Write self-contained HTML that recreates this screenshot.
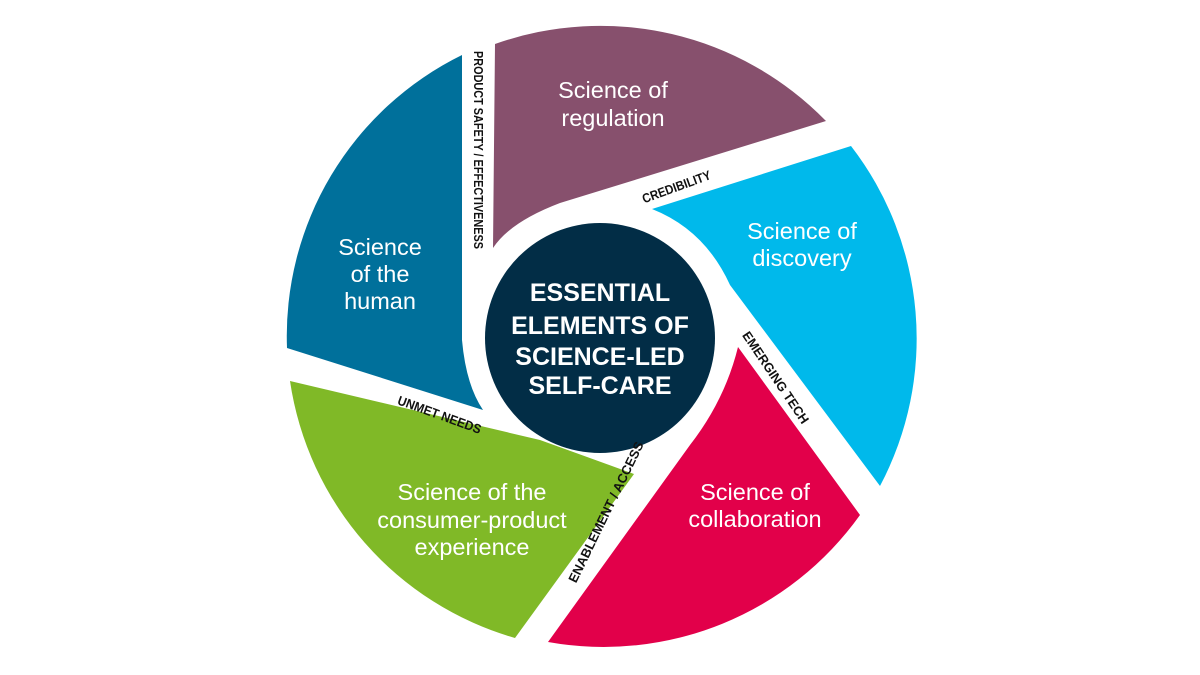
<!DOCTYPE html>
<html><head><meta charset="utf-8"><style>
html,body{margin:0;padding:0;background:#fff;}
svg{display:block;}
.w{fill:#fff;font-family:"Liberation Sans",sans-serif;font-size:23.5px;text-anchor:middle;}
.c{fill:#fff;font-family:"Liberation Sans",sans-serif;font-size:25px;font-weight:bold;text-anchor:middle;}
.k{fill:#111;font-family:"Liberation Sans",sans-serif;font-size:13px;font-weight:bold;text-anchor:middle;}
</style></head><body>
<svg width="1200" height="675" viewBox="0 0 1200 675" xmlns="http://www.w3.org/2000/svg">
<rect width="1200" height="675" fill="#fff"/>
<path d="M495 44 A315 315 0 0 1 826 121 L560 203 Q510 222 493 248 Z" fill="#87506d"/>
<path d="M851 146 A315 315 0 0 1 880 486 L730 285 Q705 230 652 209 Z" fill="#00b9eb"/>
<path d="M860 515 A315 315 0 0 1 548 642 L690 445 Q725 400 738 347 Z" fill="#e2004a"/>
<path d="M515 638 A315 315 0 0 1 290 381 L540 440 Q590 458 634 474 Z" fill="#80b927"/>
<path d="M462 55 L462 340 Q466 385 483 410 L287 348 A313 313 0 0 1 462 55 Z" fill="#00709b"/>
<circle cx="600" cy="338" r="115" fill="#022d46"/>

<text class="w" x="613" y="98">Science of</text>
<text class="w" x="613" y="126">regulation</text>
<text class="w" x="802" y="239">Science of</text>
<text class="w" x="802" y="266">discovery</text>
<text class="w" x="380" y="255">Science</text>
<text class="w" x="380" y="282">of the</text>
<text class="w" x="380" y="309">human</text>
<text class="w" x="472" y="500">Science of the</text>
<text class="w" x="472" y="528">consumer-product</text>
<text class="w" x="472" y="555">experience</text>
<text class="w" x="755" y="500">Science of</text>
<text class="w" x="755" y="527">collaboration</text>

<text class="c" x="600" y="301">ESSENTIAL</text>
<text class="c" x="600" y="334">ELEMENTS OF</text>
<text class="c" x="600" y="365">SCIENCE-LED</text>
<text class="c" x="600" y="394">SELF-CARE</text>

<text class="k" transform="translate(474,150) rotate(90)" textLength="198" lengthAdjust="spacingAndGlyphs">PRODUCT SAFETY / EFFECTIVENESS</text>
<text class="k" transform="translate(678,191) rotate(-20)" textLength="72" lengthAdjust="spacingAndGlyphs">CREDIBILITY</text>
<text class="k" transform="translate(772,380) rotate(56)" textLength="108" lengthAdjust="spacingAndGlyphs">EMERGING TECH</text>
<text class="k" transform="translate(610,514) rotate(-64)" textLength="155" lengthAdjust="spacingAndGlyphs">ENABLEMENT / ACCESS</text>
<text class="k" transform="translate(438,419) rotate(20)" textLength="88" lengthAdjust="spacingAndGlyphs">UNMET NEEDS</text>
</svg>
</body></html>
